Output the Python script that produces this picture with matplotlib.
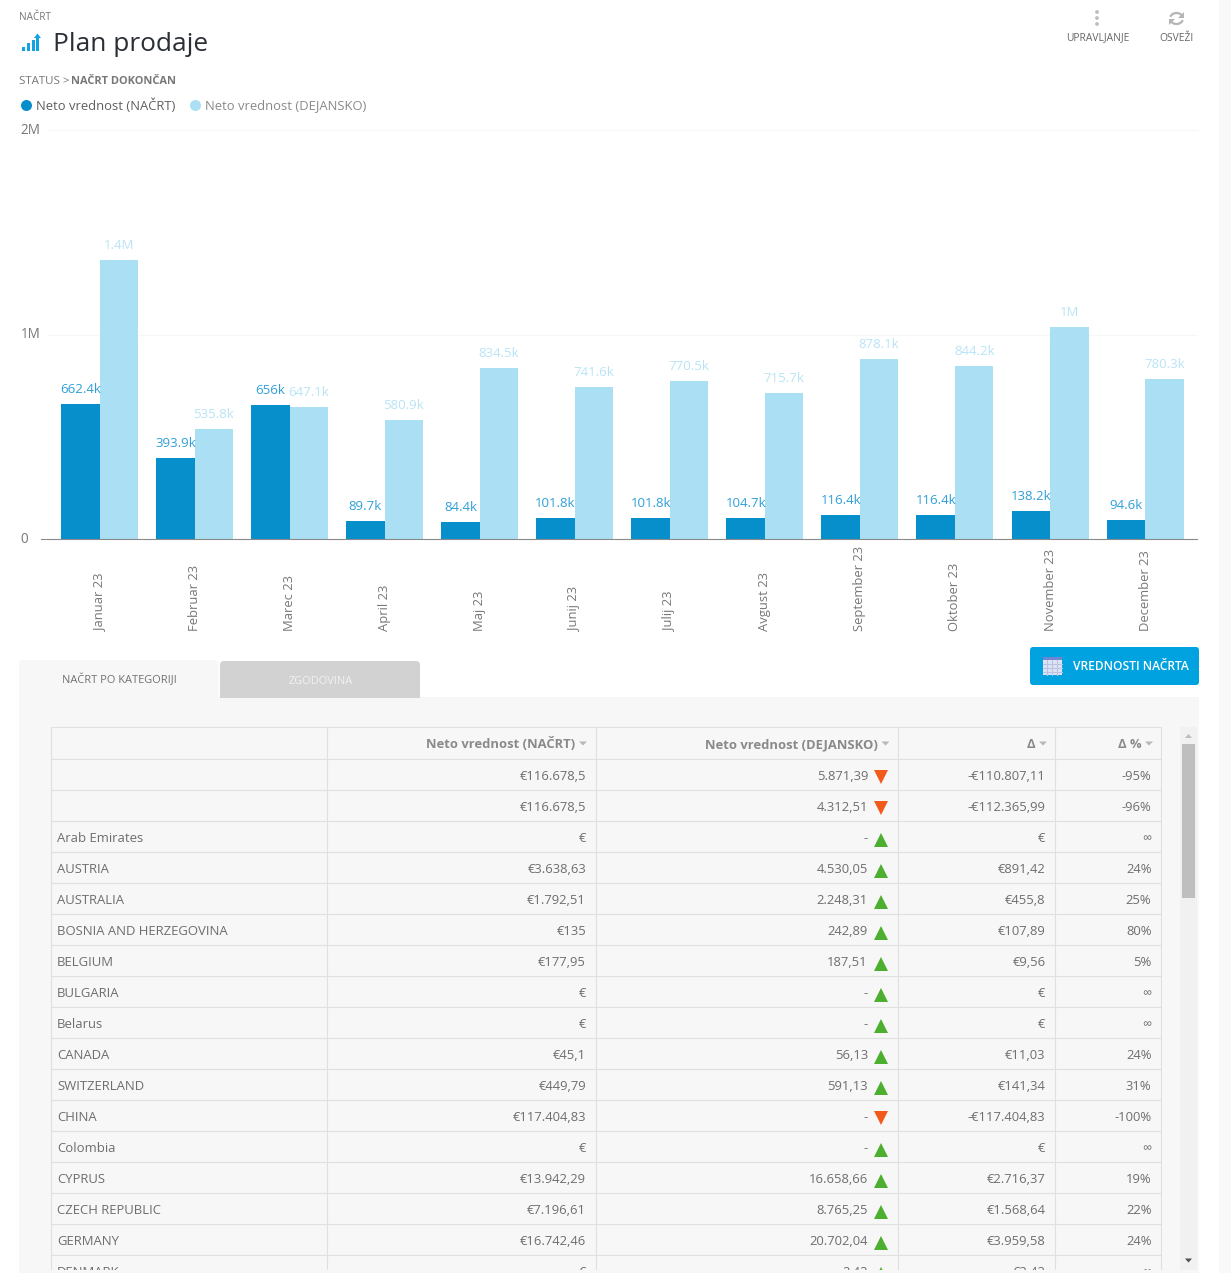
import matplotlib
matplotlib.use("Agg")
import matplotlib.pyplot as plt
from matplotlib.lines import Line2D
from matplotlib.patches import Rectangle, FancyBboxPatch, Arc, Polygon, Circle
from matplotlib.transforms import ScaledTranslation

plt.rcParams['font.family'] = ['Open Sans', 'DejaVu Sans']

W, H = 1231, 1273
PX = 72 / 100  # one pixel in points

# ---- chart data
months = ['Januar 23', 'Februar 23', 'Marec 23', 'April 23', 'Maj 23', 'Junij 23', 'Julij 23',
          'Avgust 23', 'September 23', 'Oktober 23', 'November 23', 'December 23']
plan = [662400, 393900, 656000, 89700, 84400, 101800, 101800, 104700, 116400, 116400, 138200, 94600]
actual = [1364000, 535800, 647100, 580900, 834500, 741600, 770500, 715700, 878100, 844200, 1037000, 780300]
plan_labels = ['662.4k', '393.9k', '656k', '89.7k', '84.4k', '101.8k', '101.8k', '104.7k',
               '116.4k', '116.4k', '138.2k', '94.6k']
actual_labels = ['1.4M', '535.8k', '647.1k', '580.9k', '834.5k', '741.6k', '770.5k', '715.7k',
                 '878.1k', '844.2k', '1M', '780.3k']
y_ticks = [0, 1000000, 2000000]
y_tick_labels = ['0', '1M', '2M']
series_names = ['Neto vrednost (NAČRT)', 'Neto vrednost (DEJANSKO)']

# ---- table data
headers = ['Neto vrednost (NAČRT)', 'Neto vrednost (DEJANSKO)', 'Δ', 'Δ %']
countries = ['', '', 'Arab Emirates', 'AUSTRIA', 'AUSTRALIA', 'BOSNIA AND HERZEGOVINA', 'BELGIUM',
             'BULGARIA', 'Belarus', 'CANADA', 'SWITZERLAND', 'CHINA', 'Colombia', 'CYPRUS',
             'CZECH REPUBLIC', 'GERMANY', 'DENMARK']
plan_txt = ['€116.678,5', '€116.678,5', '€', '€3.638,63', '€1.792,51', '€135', '€177,95', '€', '€',
            '€45,1', '€449,79', '€117.404,83', '€', '€13.942,29', '€7.196,61', '€16.742,46', '€']
actual_txt = ['5.871,39', '4.312,51', '-', '4.530,05', '2.248,31', '242,89', '187,51', '-', '-',
              '56,13', '591,13', '-', '-', '16.658,66', '8.765,25', '20.702,04', '2,42']
delta_txt = ['-€110.807,11', '-€112.365,99', '€', '€891,42', '€455,8', '€107,89', '€9,56', '€', '€',
             '€11,03', '€141,34', '-€117.404,83', '€', '€2.716,37', '€1.568,64', '€3.959,58', '€2,42']
pct_txt = ['-95%', '-96%', '∞', '24%', '25%', '80%', '5%', '∞', '∞', '24%', '31%', '-100%', '∞',
           '19%', '22%', '24%', '∞']
trend_up = [False, False, True, True, True, True, True, True, True, True, True, False, True, True,
            True, True, True]

BLUE, LIGHT = '#068fca', '#aadff4'
BLUE_T, LIGHT_T = '#2f9fd8', '#b9e4f6'
GREY = '#6e6e6e'

fig = plt.figure(figsize=(W / 100, H / 100), dpi=100, facecolor='white')

# ---- page layer in pixel coordinates
pg = fig.add_axes([0, 0, 1, 1], zorder=0)
pg.set_xlim(0, W)
pg.set_ylim(H, 0)
pg.axis('off')

def T(x, y, s, size=13, color=GREY, ha='left', weight='normal', z=5):
    pg.text(x, y, s, fontsize=size * PX, color=color, ha=ha, va='baseline', fontweight=weight, zorder=z)

def R(x0, y0, x1, y1, color, z=1):
    pg.add_patch(Rectangle((x0, y0), x1 - x0, y1 - y0, fc=color, ec='none', zorder=z))

def tri(cx, tip_y, base_y, half, color, z=5):
    pg.add_patch(Polygon([[cx - half, base_y], [cx + half, base_y], [cx, tip_y]], fc=color, ec='none', zorder=z))

# header
R(1219, 0, W, H, '#f9f9f9', 0)
T(19, 20, 'NAČRT', 10, '#777777')
T(53, 51, 'Plan prodaje', 26.3, '#2a2f36')
T(19, 84, 'STATUS > ', 11.5, '#777777')
T(71, 84, 'NAČRT DOKONČAN', 11, '#777777', weight='bold')
T(1097.5, 40.5, 'UPRAVLJANJE', 10.3, '#666666', ha='center')
T(1176.5, 41, 'OSVEŽI', 10.3, '#666666', ha='center')

# title icon
ICON = '#12a3e2'
for bx, top in zip([21.5, 26.5, 31.5, 36], [46.7, 43, 40, 37]):
    R(bx, top, bx + 3, 51, ICON, 3)
pg.add_patch(Polygon([[37.5, 33.5], [41, 38], [34, 38]], fc=ICON, ec='none', zorder=3))

# kebab and refresh icons
for dy in [12, 18, 24]:
    pg.add_patch(Circle((1097, dy), 1.9, fc='#bdbdbd', ec='none', zorder=3))
RF = '#b5b5b5'
pg.add_patch(Arc((1176.5, 18.5), 13, 11, theta1=195, theta2=340, ec=RF, lw=1.6, zorder=3))
pg.add_patch(Arc((1176.5, 18.5), 13, 11, theta1=15, theta2=160, ec=RF, lw=1.6, zorder=3))
pg.add_patch(Polygon([[1184, 12], [1184, 18], [1178, 18]], fc=RF, ec='none', zorder=3))
pg.add_patch(Polygon([[1169, 25], [1169, 19], [1175, 19]], fc=RF, ec='none', zorder=3))

# tabs, panel and button
PANEL = '#f7f7f7'
R(19, 697, 1199, H, PANEL, 1)
pg.add_patch(FancyBboxPatch((19, 660), 199.5, 45, boxstyle='round,pad=0,rounding_size=4',
                            fc=PANEL, ec='none', zorder=1))
pg.add_patch(FancyBboxPatch((220, 661), 200, 37, boxstyle='round,pad=0,rounding_size=4',
                            fc='#d2d2d2', ec='none', zorder=1))
R(220, 690, 420, 698, '#d2d2d2', 1.5)
T(119, 683, 'NAČRT PO KATEGORIJI', 11, '#707070', ha='center')
T(320.5, 684, 'ZGODOVINA', 11, '#f2f2f2', ha='center')
pg.add_patch(FancyBboxPatch((1030, 647), 169, 38, boxstyle='round,pad=0,rounding_size=3',
                            fc='#00a3e0', ec='none', zorder=2))
T(1073, 670, 'VREDNOSTI NAČRTA', 12, 'white', weight='semibold')
R(1043, 657, 1062, 675, '#dfe3f3', 3)
R(1043, 657, 1062, 660, '#6f85cf', 3.1)
for gx in [1047, 1052, 1057]:
    pg.plot([gx, gx], [660, 675], color='#b9c3e6', lw=0.8, zorder=3.2)
for gy in [664, 668, 672]:
    pg.plot([1043, 1062], [gy, gy], color='#b9c3e6', lw=0.8, zorder=3.2)

# table
TOP, HDR, ROW = 727, 759, 31
LINE = '#e0e0e0'
col_x = [51, 327, 596, 898, 1055, 1161]
right_x = [586, 868, 1045.5, 1151.5]
header_end = [575.5, 878, 1035.5, 1141.5]
for cx in col_x:
    pg.plot([cx, cx], [TOP, 1270], color=LINE, lw=0.8, zorder=2, solid_capstyle='butt')
for gy in [TOP, HDR] + [HDR + ROW * (i + 1) for i in range(len(countries))]:
    pg.plot([col_x[0], col_x[-1]], [gy, gy], color=LINE, lw=0.8, zorder=2, solid_capstyle='butt')

for h, end in zip(headers, header_end):
    T(end, 748, h, 13, '#8a8a8a', ha='right', weight='bold')
    tri(end + 7.5, 745.5, 741.5, 4, '#b8b8b8')

for i, c in enumerate(countries):
    base = HDR + ROW * i + ROW / 2 + 5.3
    if c:
        T(57, base, c, 13.15)
    T(right_x[0], base, plan_txt[i], ha='right')
    T(right_x[1], base, actual_txt[i], ha='right')
    T(right_x[2], base, delta_txt[i], ha='right')
    T(right_x[3], base, pct_txt[i], ha='right')
    up = trend_up[i]
    pg.plot([881], [base - 5.3 + (3 if up else 2)], marker='^' if up else 'v', ms=10.2,
            color='#4caf2f' if up else '#f25a1c', mew=0, zorder=5)

# scrollbar
R(1180, 727, 1197, 1270, '#f1f1f1', 3)
R(1182, 744, 1195, 898, '#bfbfbf', 3.1)
tri(1188.5, 734, 738, 3.5, '#bdbdbd', 4)
tri(1188.5, 1262.5, 1258.5, 3.5, '#505050', 4)

# table is cut off at the bottom of its scroll area
R(19, 1270, 1199, H, PANEL, 8)

# ---- chart
AX_L, AX_R, AX_T, AX_B = 41, 1197, 130, 539
UNIT = 95.05
ax = fig.add_axes([AX_L / W, 1 - AX_B / H, (AX_R - AX_L) / W, (AX_B - AX_T) / H], zorder=2)
ax.patch.set_alpha(0)
x_left = -0.5 - (52 - AX_L) / UNIT
ax.set_xlim(x_left, x_left + (AX_R - AX_L) / UNIT)
ax.set_ylim(0, 2000000)
pos = list(range(len(months)))
bw = 38.5 / UNIT
for v in y_ticks[1:]:
    ax.plot([-0.555, 11.55], [v, v], color='#f7f7f7', lw=0.8, zorder=0, clip_on=False)
ax.bar([p - bw / 2 for p in pos], plan, bw, color=BLUE, zorder=2)
ax.bar([p + bw / 2 for p in pos], actual, bw, color=LIGHT, zorder=2)
for p, v, s in zip(pos, plan, plan_labels):
    ax.annotate(s, (p - bw / 2, v), xytext=(0, 11 * PX), textcoords='offset points', ha='center',
                va='baseline', color=BLUE_T, fontsize=13.2 * PX, zorder=3)
for p, v, s in zip(pos, actual, actual_labels):
    ax.annotate(s, (p + bw / 2, v), xytext=(0, 11 * PX), textcoords='offset points', ha='center',
                va='baseline', color=LIGHT_T, fontsize=13.2 * PX, zorder=3)

for s in ['top', 'left', 'right']:
    ax.spines[s].set_visible(False)
ax.spines['bottom'].set_color('#8a8a8a')
ax.spines['bottom'].set_linewidth(0.8)
ax.set_yticks(y_ticks)
ax.set_yticklabels(y_tick_labels, fontsize=13.5 * PX, color='#777777', ha='left')
ax.tick_params(axis='y', length=0, pad=20.5 * PX)
ax.set_xticks(pos)
ax.set_xticklabels(months, rotation=90, fontsize=13 * PX, color='#777777', va='bottom', ha='center')
ax.tick_params(axis='x', length=0, pad=91.5 * PX)
lift = ScaledTranslation(0, 2 * PX / 72, fig.dpi_scale_trans)
for lbl in ax.get_yticklabels():
    lbl.set_transform(lbl.get_transform() + lift)

handles = [Line2D([], [], ls='', marker='o', ms=11 * PX, color=BLUE, mew=0),
           Line2D([], [], ls='', marker='o', ms=11 * PX, color=LIGHT, mew=0)]
leg = ax.legend(handles, series_names, loc='upper left', bbox_to_anchor=(19 / W, 1 - 98 / H),
                bbox_transform=fig.transFigure, ncols=2, frameon=False, fontsize=13 * PX,
                handlelength=1.0, handletextpad=0.27, columnspacing=1.08, borderpad=0, borderaxespad=0)
leg.get_texts()[0].set_color('#5f5f5f')
leg.get_texts()[1].set_color('#8a8a8a')

fig.savefig('out.png', dpi=100, facecolor='white')
